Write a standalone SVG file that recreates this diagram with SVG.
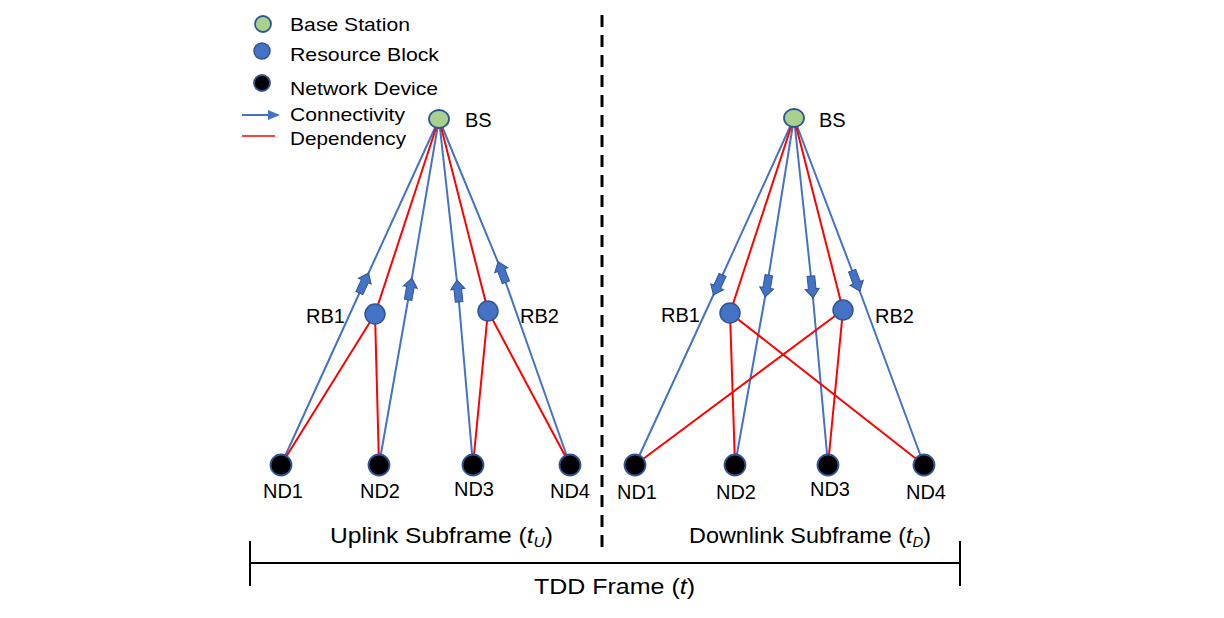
<svg xmlns="http://www.w3.org/2000/svg" width="1224" height="618" viewBox="0 0 1224 618">
<style>
text{font-family:"Liberation Sans",Arial,sans-serif;font-size:20px;fill:#000}
.lg{font-size:19px}
.ft{font-size:22px}
.b{stroke:#4472C4;stroke-width:2;fill:none}
.r{stroke:#FF0000;stroke-width:2;fill:none}
.bs{fill:#A9D18E;stroke:#2F5597;stroke-width:1.8}
.rb{fill:#4472C4;stroke:#2F5597;stroke-width:1.5}
.nd{fill:#000;stroke:#2F5597;stroke-width:1.8}
.k{stroke:#000;stroke-width:2}
</style>
<defs>
<marker id="blk" markerUnits="userSpaceOnUse" viewBox="-13 -9 26 18" markerWidth="26" markerHeight="18" refX="0" refY="0" orient="auto">
<polygon points="-11,-3.8 2,-3.8 2,-7 11,0 2,7 2,3.8 -11,3.8" fill="#4472C4" stroke="#2F5597" stroke-width="1"/>
</marker>
<marker id="tri" markerUnits="userSpaceOnUse" viewBox="0 -6 12 12" markerWidth="12" markerHeight="12" refX="10" refY="0" orient="auto">
<polygon points="0,-5 12,0 0,5" fill="#4472C4"/>
</marker>
</defs>
<g id="legend">
<circle cx="263" cy="24" r="8" class="bs"/>
<text class="lg" x="290" y="31" textLength="120" lengthAdjust="spacingAndGlyphs">Base Station</text>
<circle cx="262" cy="51" r="8" class="rb"/>
<text class="lg" x="290" y="61" textLength="149" lengthAdjust="spacingAndGlyphs">Resource Block</text>
<circle cx="262" cy="83" r="8" class="nd"/>
<text class="lg" x="290" y="95" textLength="148" lengthAdjust="spacingAndGlyphs">Network Device</text>
<line x1="242" y1="115" x2="278" y2="115" class="b" marker-end="url(#tri)"/>
<text class="lg" x="290" y="121" textLength="115" lengthAdjust="spacingAndGlyphs">Connectivity</text>
<line x1="242" y1="136" x2="275" y2="136" stroke="#FF0000" stroke-width="1.5"/>
<text class="lg" x="290" y="145" textLength="116" lengthAdjust="spacingAndGlyphs">Dependency</text>
</g>
<g id="connectors">
<!-- uplink blue -->
<path class="b" d="M281,465 L364,283 L439,119" marker-mid="url(#blk)"/>
<path class="b" d="M379,465 L410,289 L439,119" marker-mid="url(#blk)"/>
<path class="b" d="M473,465 L458,291 L439,119" marker-mid="url(#blk)"/>
<path class="b" d="M570,465 L502,272 L439,119" marker-mid="url(#blk)"/>
<!-- uplink red -->
<line class="r" x1="439" y1="119" x2="375" y2="314"/>
<line class="r" x1="439" y1="119" x2="488" y2="311"/>
<line class="r" x1="375" y1="314" x2="281" y2="465"/>
<line class="r" x1="375" y1="314" x2="379" y2="465"/>
<line class="r" x1="488" y1="311" x2="473" y2="465"/>
<line class="r" x1="488" y1="311" x2="570" y2="465"/>
<!-- downlink blue -->
<path class="b" d="M794,118 L718,285 L635,465" marker-mid="url(#blk)"/>
<path class="b" d="M794,118 L767,286 L735,465" marker-mid="url(#blk)"/>
<path class="b" d="M794,118 L812,287 L828,465" marker-mid="url(#blk)"/>
<path class="b" d="M794,118 L856,281 L924,465" marker-mid="url(#blk)"/>
<!-- downlink red -->
<line class="r" x1="794" y1="118" x2="730" y2="313"/>
<line class="r" x1="794" y1="118" x2="843" y2="310"/>
<line class="r" x1="730" y1="313" x2="735" y2="465"/>
<line class="r" x1="730" y1="313" x2="924" y2="465"/>
<line class="r" x1="843" y1="310" x2="635" y2="465"/>
<line class="r" x1="843" y1="310" x2="828" y2="465"/>
</g>
<g id="bs-up"><ellipse cx="439" cy="119" rx="10" ry="9" class="bs"/><text x="465" y="127" font-size="19">BS</text></g>
<g id="rb1-up"><circle cx="375" cy="314" r="10" class="rb"/><text x="306" y="323">RB1</text></g>
<g id="rb2-up"><circle cx="488" cy="311" r="10" class="rb"/><text x="520" y="323">RB2</text></g>
<g id="nd1-up"><circle cx="281" cy="465" r="10.5" class="nd"/><text x="283" y="498" text-anchor="middle">ND1</text></g>
<g id="nd2-up"><circle cx="379" cy="465" r="10.5" class="nd"/><text x="380" y="498" text-anchor="middle">ND2</text></g>
<g id="nd3-up"><circle cx="473" cy="465" r="10.5" class="nd"/><text x="474" y="496" text-anchor="middle">ND3</text></g>
<g id="nd4-up"><circle cx="570" cy="465" r="10.5" class="nd"/><text x="570" y="498" text-anchor="middle">ND4</text></g>
<g id="bs-down"><ellipse cx="794" cy="118" rx="10" ry="9" class="bs"/><text x="819" y="127" font-size="19">BS</text></g>
<g id="rb1-down"><circle cx="730" cy="313" r="10" class="rb"/><text x="661" y="322">RB1</text></g>
<g id="rb2-down"><circle cx="843" cy="310" r="10" class="rb"/><text x="875" y="323">RB2</text></g>
<g id="nd1-down"><circle cx="635" cy="465" r="10.5" class="nd"/><text x="637" y="499" text-anchor="middle">ND1</text></g>
<g id="nd2-down"><circle cx="735" cy="465" r="10.5" class="nd"/><text x="736" y="499" text-anchor="middle">ND2</text></g>
<g id="nd3-down"><circle cx="828" cy="465" r="10.5" class="nd"/><text x="830" y="496" text-anchor="middle">ND3</text></g>
<g id="nd4-down"><circle cx="924" cy="465" r="10.5" class="nd"/><text x="926" y="499" text-anchor="middle">ND4</text></g>
<g id="frame">
<line x1="602" y1="15" x2="602" y2="548" stroke="#000" stroke-width="3" stroke-dasharray="12,8"/>
<line x1="250" y1="563" x2="960" y2="563" class="k"/>
<line x1="250" y1="541" x2="250" y2="586" class="k"/>
<line x1="960" y1="541" x2="960" y2="586" class="k"/>
<text class="ft" x="330" y="543" textLength="223" lengthAdjust="spacingAndGlyphs">Uplink Subframe (<tspan font-style="italic">t</tspan><tspan font-style="italic" font-size="14" dy="4">U</tspan><tspan dy="-4">)</tspan></text>
<text class="ft" x="689" y="543" textLength="242" lengthAdjust="spacingAndGlyphs">Downlink Subframe (<tspan font-style="italic">t</tspan><tspan font-style="italic" font-size="14" dy="4">D</tspan><tspan dy="-4">)</tspan></text>
<text class="ft" x="534" y="594" textLength="161" lengthAdjust="spacingAndGlyphs">TDD Frame (<tspan font-style="italic">t</tspan>)</text>
</g>
</svg>
